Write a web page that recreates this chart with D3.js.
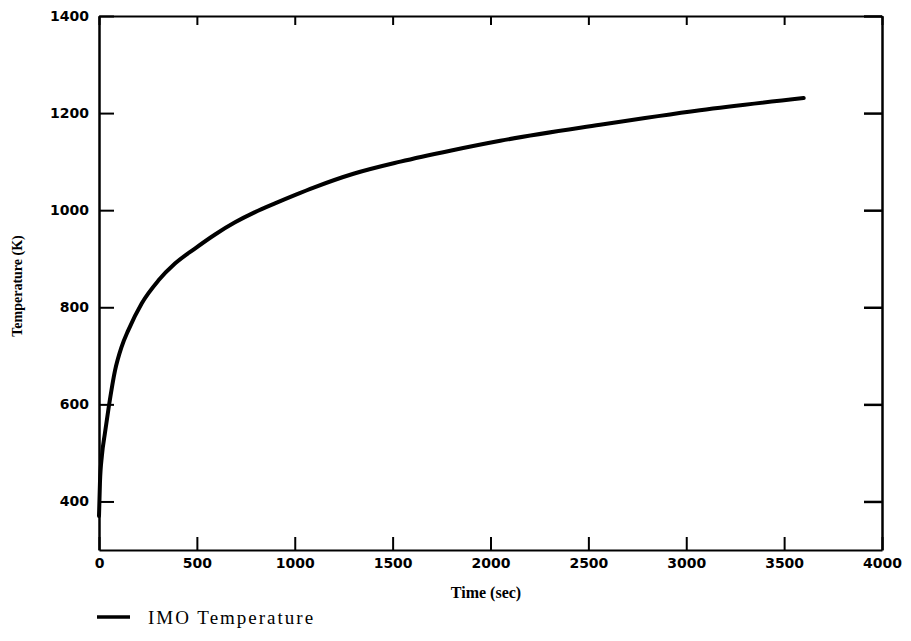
<!DOCTYPE html>
<html>
<head>
<meta charset="utf-8">
<script src="https://cdn.jsdelivr.net/npm/d3@7"></script>
<style>
  body { margin: 0; background: #fff; }
  svg { display: block; }
  .tick text { font-family: "DejaVu Sans", sans-serif; font-weight: bold; font-size: 14px; fill: #000; }
  .domain, .tick line { stroke: #000; }
</style>
</head>
<body>
<svg width="911" height="641"></svg>
<script>
// time (sec) and IMO temperature (K)
var timeSec = [0, 5, 15, 30, 50, 82, 115, 150, 218, 303, 388, 490, 593, 695, 797, 899, 1000, 1100, 1300, 1540, 1800, 2050, 2560, 3070, 3600];
var tempK   = [370, 440, 495, 540, 595, 670, 718, 753, 808, 855, 890, 921, 950, 975, 996, 1014, 1031, 1047, 1075, 1100, 1123, 1143, 1176, 1206, 1231];
var xTicks = [0, 500, 1000, 1500, 2000, 2500, 3000, 3500, 4000];
var yTicks = [400, 600, 800, 1000, 1200, 1400];

var svg = d3.select("svg");
var mLeft = 99, mRight = 882, mTop = 16, mBottom = 550;

var x = d3.scaleLinear().domain([0, 4000]).range([mLeft, mRight]);
var y = d3.scaleLinear().domain([300, 1400]).range([mBottom, mTop]);

// bottom axis, ticks point inward
svg.append("g")
  .attr("transform", "translate(0," + mBottom + ")")
  .call(d3.axisBottom(x).tickValues(xTicks).tickSize(-13).tickSizeOuter(0).tickPadding(8).tickFormat(d3.format("d")))
  .call(g => g.select(".domain").attr("stroke-width", 2))
  .call(g => g.selectAll(".tick line").attr("stroke-width", 2));

// top axis, no labels
svg.append("g")
  .attr("transform", "translate(0," + mTop + ")")
  .call(d3.axisTop(x).tickValues(xTicks).tickSize(-9).tickSizeOuter(0).tickFormat(""))
  .call(g => g.select(".domain").attr("stroke-width", 2))
  .call(g => g.selectAll(".tick line").attr("stroke-width", 2));

// left axis
svg.append("g")
  .attr("transform", "translate(" + mLeft + ",0)")
  .call(d3.axisLeft(y).tickValues(yTicks).tickSize(-15).tickSizeOuter(0).tickPadding(10).tickFormat(d3.format("d")))
  .call(g => g.select(".domain").attr("stroke-width", 2.5))
  .call(g => g.selectAll(".tick line").attr("stroke-width", 2));

// right axis
svg.append("g")
  .attr("transform", "translate(" + mRight + ",0)")
  .call(d3.axisRight(y).tickValues(yTicks).tickSize(-18).tickSizeOuter(0).tickFormat(""))
  .call(g => g.select(".domain").attr("stroke-width", 2.5))
  .call(g => g.selectAll(".tick line").attr("stroke-width", 2.5));

// curve
var line = d3.line()
  .x(function(d, i) { return x(timeSec[i]); })
  .y(function(d, i) { return y(tempK[i]); })
  .curve(d3.curveMonotoneX);

svg.append("path")
  .datum(tempK)
  .attr("d", line)
  .attr("fill", "none")
  .attr("stroke", "#000")
  .attr("stroke-width", 4)
  .attr("stroke-linecap", "round");

// axis titles
svg.append("text")
  .attr("x", 486).attr("y", 598)
  .attr("text-anchor", "middle")
  .style("font-family", "'Liberation Serif', serif")
  .style("font-weight", "bold")
  .style("font-size", "16px")
  .text("Time (sec)");

svg.append("text")
  .attr("transform", "translate(22,286) rotate(-90)")
  .attr("text-anchor", "middle")
  .style("font-family", "'Liberation Serif', serif")
  .style("font-weight", "bold")
  .style("font-size", "14px")
  .text("Temperature (K)");

// legend
svg.append("line")
  .attr("x1", 97).attr("x2", 130)
  .attr("y1", 617).attr("y2", 617)
  .attr("stroke", "#000").attr("stroke-width", 3.5);

svg.append("text")
  .attr("x", 148).attr("y", 624)
  .style("font-family", "'Liberation Serif', serif")
  .style("font-size", "19px")
  .style("letter-spacing", "2px")
  .text("IMO Temperature");
</script>
</body>
</html>
